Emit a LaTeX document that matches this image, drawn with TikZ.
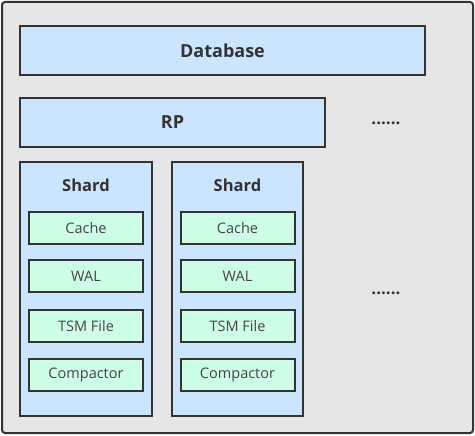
\documentclass[tikz,border=0pt]{standalone}
\usepackage{fontspec}
\setmainfont{Open Sans}
\definecolor{bgc}{HTML}{E6E6E6}
\definecolor{blueb}{HTML}{CCE5FF}
\definecolor{greenb}{HTML}{CCFFE6}
\definecolor{edge}{HTML}{333333}
\definecolor{txt}{HTML}{333333}
\definecolor{txtl}{HTML}{444444}
\begin{document}
\begin{tikzpicture}[x=1pt,y=-1pt,
  outerbox/.style={draw=edge,line width=2pt,fill=bgc,rounded corners=3pt},
  bluebox/.style={draw=edge,line width=2pt,fill=blueb},
  greenbox/.style={draw=edge,line width=2pt,fill=greenb,minimum width=114pt,minimum height=32pt,inner sep=0pt,text=txtl,font=\fontsize{14.5}{16}\selectfont},
  title/.style={text=txt,font=\bfseries\fontsize{18}{20}\selectfont},
  stitle/.style={text=txt,font=\bfseries\fontsize{16.5}{18}\selectfont},
  dots/.style={text=txt,font=\bfseries\fontsize{17}{18}\selectfont}
]
\useasboundingbox (0,0) rectangle (475,436);
\draw[outerbox] (2,2) rectangle (473,433);
\draw[bluebox] (20,26) rectangle (425,75);
\node[title] (db) at (222.5,50.5) {Database};
\draw[bluebox] (20,98) rectangle (325,147);
\node[title] (rp) at (172.5,122.5) {RP};
\node[dots] (d1) at (386,123) {......};
\node[dots] (d2) at (386,293) {......};
\foreach \xa/\xb/\nm in {20/152/a,172/303/b}{
  \draw[bluebox] (\xa,162) rectangle (\xb,416);
  \pgfmathsetmacro{\xc}{(\xa+\xb)/2}
  \node[stitle] (s\nm) at (\xc,185) {Shard};
  \node[greenbox] (c\nm) at (\xc,228) {Cache};
  \node[greenbox] (w\nm) at (\xc,276) {WAL};
  \node[greenbox] (t\nm) at (\xc,326) {TSM File};
  \node[greenbox] (k\nm) at (\xc,375) {Compactor};
}
\end{tikzpicture}
\end{document}
